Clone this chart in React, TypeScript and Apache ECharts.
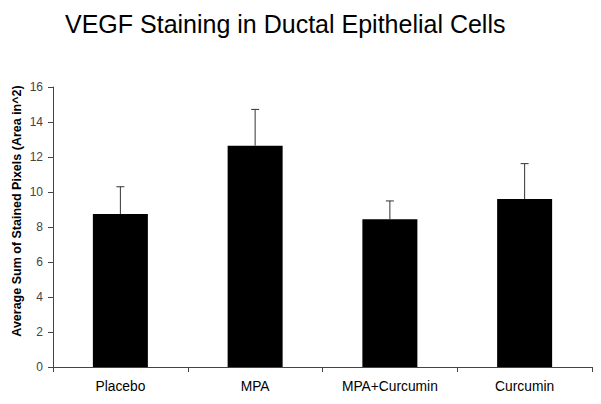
import React, { useEffect, useRef } from "react";
import * as echarts from "echarts";

const categories = ["Placebo", "MPA", "MPA+Curcumin", "Curcumin"];
const means = [8.74, 12.65, 8.44, 9.6];
const upperErrors = [10.3, 14.72, 9.49, 11.62];
const yTicks = [0, 2, 4, 6, 8, 10, 12, 14, 16];

const FONT = "'Liberation Sans', Arial, sans-serif";

export default function App() {
  const ref = useRef<HTMLDivElement>(null);
  useEffect(() => {
    if (!ref.current) return;
    const chart = echarts.init(ref.current, undefined, { renderer: "svg" });
    const errData = categories.map((_, i) => [i, means[i], upperErrors[i]]);
    chart.setOption({
      animation: false,
      backgroundColor: "#ffffff",
      title: {
        text: "VEGF Staining in Ductal Epithelial Cells",
        left: 60,
        top: 6,
        textStyle: { fontFamily: FONT, fontSize: 25, fontWeight: "normal", color: "#000" },
      },
      grid: { left: 53, right: 9, top: 87, bottom: 37, containLabel: false },
      xAxis: {
        type: "category",
        data: categories,
        boundaryGap: true,
        axisLine: { lineStyle: { color: "#444", width: 1 } },
        axisTick: { show: true, length: 5, inside: false, alignWithLabel: false, lineStyle: { color: "#444" } },
        axisLabel: { fontFamily: FONT, fontSize: 13.8, color: "#000", margin: 12 },
        splitLine: { show: false },
      },
      yAxis: {
        type: "value",
        min: yTicks[0],
        max: yTicks[yTicks.length - 1],
        interval: 2,
        axisLine: { show: true, lineStyle: { color: "#444", width: 1 } },
        axisTick: { show: true, length: 5, lineStyle: { color: "#444" } },
        axisLabel: { fontFamily: FONT, fontSize: 12, color: "#444", margin: 10 },
        splitLine: { show: false },
      },
      graphic: [
        {
          type: "text",
          x: 17,
          y: 211,
          rotation: Math.PI / 2,
          style: {
            text: "Average Sum of Stained Pixels (Area in^2)",
            fontFamily: FONT,
            fontSize: 12.5,
            fontWeight: "bold",
            fill: "#000",
            align: "center",
            verticalAlign: "middle",
          },
        },
      ],
      series: [
        {
          type: "bar",
          data: means,
          barWidth: 55,
          itemStyle: { color: "#000" },
          z: 2,
        },
        {
          type: "custom",
          data: errData,
          z: 3,
          renderItem: (params: any, api: any) => {
            const idx = api.value(0);
            const lo = api.coord([idx, api.value(1)]);
            const hi = api.coord([idx, api.value(2)]);
            const capHalf = 4;
            const style = { stroke: "#333", lineWidth: 1 };
            return {
              type: "group",
              children: [
                { type: "line", shape: { x1: lo[0], y1: lo[1], x2: hi[0], y2: hi[1] }, style },
                { type: "line", shape: { x1: hi[0] - capHalf, y1: hi[1], x2: hi[0] + capHalf, y2: hi[1] }, style },
              ],
            };
          },
        },
      ],
    });
    return () => chart.dispose();
  }, []);
  return <div ref={ref} style={{ width: 601, height: 404, position: "absolute", left: 0, top: 0 }} />;
}
